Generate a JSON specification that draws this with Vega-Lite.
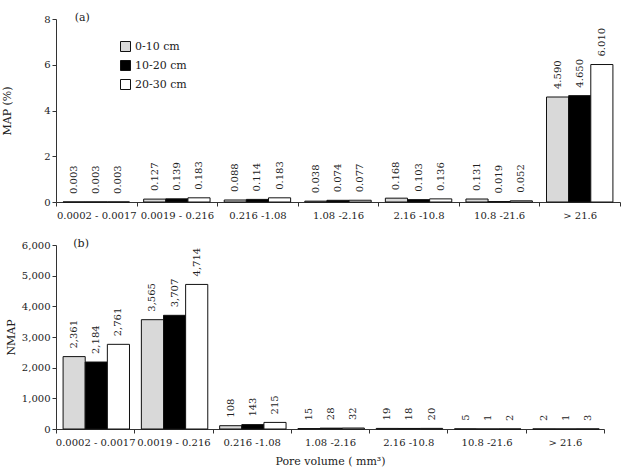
{
  "$schema": "https://vega.github.io/schema/vega-lite/v6.json",
  "background": "white",
  "padding": {"left": 1, "top": 12, "right": 5, "bottom": 5},
  "spacing": 18,
  "config": {
    "font": "DejaVu Serif",
    "view": {"stroke": null},
    "axis": {
      "labelFont": "DejaVu Serif",
      "titleFont": "DejaVu Serif",
      "labelFontSize": 10,
      "titleFontSize": 11,
      "titleFontWeight": "normal",
      "labelColor": "#222222",
      "titleColor": "#222222",
      "domainColor": "#333333",
      "tickColor": "#333333",
      "tickSize": 4,
      "grid": false
    },
    "legend": {
      "labelFont": "DejaVu Serif",
      "labelFontSize": 11,
      "labelColor": "#222222",
      "symbolType": "square",
      "symbolSize": 100,
      "symbolStrokeColor": "#111111",
      "symbolStrokeWidth": 1,
      "rowPadding": 4
    },
    "text": {"font": "DejaVu Serif", "fontSize": 10, "color": "#222222"}
  },
  "datasets": {
    "pores": [
      {"range": "0.0002  -  0.0017", "depth": "0-10 cm", "map": 0.003, "nmap": 2361},
      {"range": "0.0002  -  0.0017", "depth": "10-20 cm", "map": 0.003, "nmap": 2184},
      {"range": "0.0002  -  0.0017", "depth": "20-30 cm", "map": 0.003, "nmap": 2761},
      {"range": "0.0019 - 0.216", "depth": "0-10 cm", "map": 0.127, "nmap": 3565},
      {"range": "0.0019 - 0.216", "depth": "10-20 cm", "map": 0.139, "nmap": 3707},
      {"range": "0.0019 - 0.216", "depth": "20-30 cm", "map": 0.183, "nmap": 4714},
      {"range": "0.216 -1.08", "depth": "0-10 cm", "map": 0.088, "nmap": 108},
      {"range": "0.216 -1.08", "depth": "10-20 cm", "map": 0.114, "nmap": 143},
      {"range": "0.216 -1.08", "depth": "20-30 cm", "map": 0.183, "nmap": 215},
      {"range": "1.08 -2.16", "depth": "0-10 cm", "map": 0.038, "nmap": 15},
      {"range": "1.08 -2.16", "depth": "10-20 cm", "map": 0.074, "nmap": 28},
      {"range": "1.08 -2.16", "depth": "20-30 cm", "map": 0.077, "nmap": 32},
      {"range": "2.16 -10.8", "depth": "0-10 cm", "map": 0.168, "nmap": 19},
      {"range": "2.16 -10.8", "depth": "10-20 cm", "map": 0.103, "nmap": 18},
      {"range": "2.16 -10.8", "depth": "20-30 cm", "map": 0.136, "nmap": 20},
      {"range": "10.8 -21.6", "depth": "0-10 cm", "map": 0.131, "nmap": 5},
      {"range": "10.8 -21.6", "depth": "10-20 cm", "map": 0.019, "nmap": 1},
      {"range": "10.8 -21.6", "depth": "20-30 cm", "map": 0.052, "nmap": 2},
      {"range": "> 21.6", "depth": "0-10 cm", "map": 4.59, "nmap": 2},
      {"range": "> 21.6", "depth": "10-20 cm", "map": 4.65, "nmap": 1},
      {"range": "> 21.6", "depth": "20-30 cm", "map": 6.01, "nmap": 3}
    ]
  },
  "vconcat": [
    {
      "width": 564,
      "height": 183,
      "layer": [
        {
          "data": {"name": "pores"},
          "mark": {"type": "bar", "stroke": "#111111", "strokeWidth": 1},
          "encoding": {
            "x": {"field": "range", "type": "nominal", "sort": null,
              "scale": {"paddingInner": 0, "paddingOuter": 0},
              "axis": {"title": null, "labelAngle": 0, "tickBand": "extent", "labelPadding": 4}},
            "xOffset": {"field": "depth", "type": "nominal", "sort": null,
              "scale": {"paddingInner": 0, "paddingOuter": 0.32}},
            "y": {"field": "map", "type": "quantitative",
              "scale": {"domain": [0, 8], "nice": false},
              "axis": {"values": [0, 2, 4, 6, 8], "format": ".0f", "title": "MAP (%)", "titlePadding": 31}},
            "fill": {"field": "depth", "type": "nominal", "sort": null,
              "scale": {"range": ["#d9d9d9", "#000000", "#ffffff"]},
              "legend": {"title": null, "orient": "none", "legendX": 64, "legendY": 22}}
          }
        },
        {
          "data": {"name": "pores"},
          "mark": {"type": "text", "angle": 270, "align": "left", "baseline": "middle", "dx": 8},
          "encoding": {
            "x": {"field": "range", "type": "nominal", "sort": null},
            "xOffset": {"field": "depth", "type": "nominal", "sort": null},
            "y": {"field": "map", "type": "quantitative",
              "axis": {"values": [0, 2, 4, 6, 8], "format": ".0f", "title": "MAP (%)", "titlePadding": 31}},
            "text": {"field": "map", "type": "quantitative", "format": ".3f"}
          }
        },
        {
          "data": {"values": [{"tag": "(a)"}]},
          "mark": {"type": "text", "align": "center", "baseline": "middle", "dx": -14, "dy": -1, "fontSize": 11},
          "encoding": {
            "x": {"datum": "0.0002  -  0.0017", "type": "nominal"},
            "y": {"datum": 8, "type": "quantitative"},
            "text": {"field": "tag"}
          }
        }
      ]
    },
    {
      "width": 548,
      "height": 184,
      "layer": [
        {
          "data": {"name": "pores"},
          "mark": {"type": "bar", "stroke": "#111111", "strokeWidth": 1},
          "encoding": {
            "x": {"field": "range", "type": "nominal", "sort": null,
              "scale": {"paddingInner": 0, "paddingOuter": 0},
              "axis": {"title": "Pore volume ( mm³)", "labelAngle": 0, "tickBand": "extent", "labelPadding": 4, "titlePadding": 8}},
            "xOffset": {"field": "depth", "type": "nominal", "sort": null,
              "scale": {"paddingInner": 0, "paddingOuter": 0.33}},
            "y": {"field": "nmap", "type": "quantitative",
              "scale": {"domain": [0, 6000], "nice": false},
              "axis": {"values": [0, 1000, 2000, 3000, 4000, 5000, 6000], "format": ",.0f", "labelOverlap": false, "title": "NMAP", "titlePadding": 5}},
            "fill": {"field": "depth", "type": "nominal", "sort": null,
              "scale": {"range": ["#d9d9d9", "#000000", "#ffffff"]},
              "legend": null}
          }
        },
        {
          "data": {"name": "pores"},
          "mark": {"type": "text", "angle": 270, "align": "left", "baseline": "middle", "dx": 8},
          "encoding": {
            "x": {"field": "range", "type": "nominal", "sort": null},
            "xOffset": {"field": "depth", "type": "nominal", "sort": null},
            "y": {"field": "nmap", "type": "quantitative",
              "axis": {"values": [0, 1000, 2000, 3000, 4000, 5000, 6000], "format": ",.0f", "labelOverlap": false, "title": "NMAP", "titlePadding": 5}},
            "text": {"field": "nmap", "type": "quantitative", "format": ","}
          }
        },
        {
          "data": {"values": [{"tag": "(b)"}]},
          "mark": {"type": "text", "align": "center", "baseline": "middle", "dx": -14, "dy": -1, "fontSize": 11},
          "encoding": {
            "x": {"datum": "0.0002  -  0.0017", "type": "nominal"},
            "y": {"datum": 6000, "type": "quantitative", "axis": {"values": [0, 1000, 2000, 3000, 4000, 5000, 6000], "format": ",.0f", "labelOverlap": false, "title": "NMAP", "titlePadding": 5}},
            "text": {"field": "tag"}
          }
        }
      ]
    }
  ]
}
